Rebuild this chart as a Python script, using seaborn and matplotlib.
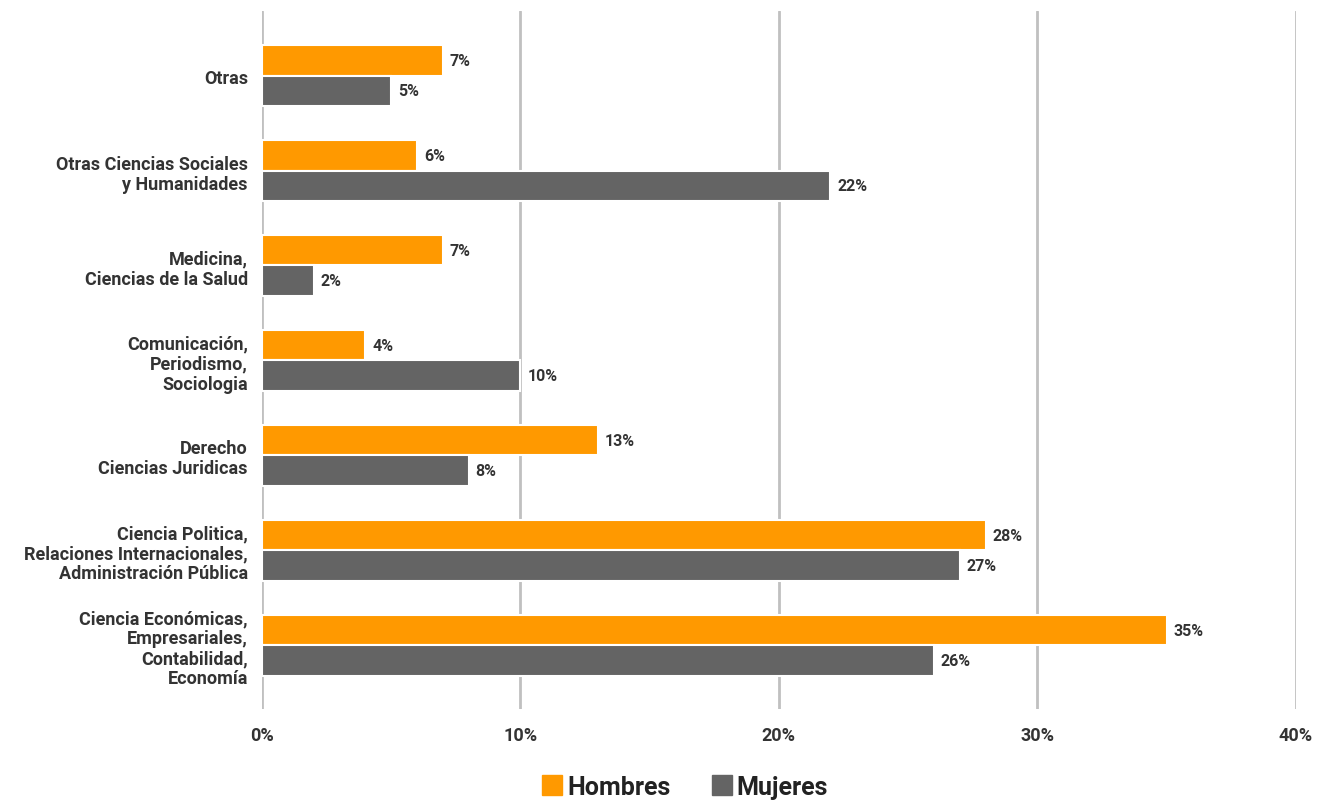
import matplotlib
matplotlib.use("Agg")
import matplotlib.pyplot as plt
from matplotlib.lines import Line2D
import seaborn as sns
import pandas as pd

categories = [
    "Otras",
    "Otras Ciencias Sociales\ny Humanidades",
    "Medicina,\nCiencias de la Salud",
    "Comunicación,\nPeriodismo,\nSociologia",
    "Derecho\nCiencias Juridicas",
    "Ciencia Politica,\nRelaciones Internacionales,\nAdministración Pública",
    "Ciencia Económicas,\nEmpresariales,\nContabilidad,\nEconomía",
]
hombres = [7, 6, 7, 4, 13, 28, 35]
mujeres = [5, 22, 2, 10, 8, 27, 26]
series = ["Hombres", "Mujeres"]
colors = ["#FF9900", "#646464"]
xticks = [0, 10, 20, 30, 40]

df = pd.DataFrame({
    "Área": categories * 2,
    "Sexo": [series[0]] * len(categories) + [series[1]] * len(categories),
    "Valor": hombres + mujeres,
})

sns.set_theme(style="white")
plt.rcParams["font.family"] = ["Roboto", "DejaVu Sans"]

fig = plt.figure(figsize=(13.29, 8.03), dpi=100)
ax = fig.add_axes([0.197, 0.116, 0.778, 0.869])

sns.barplot(data=df, y="Área", x="Valor", hue="Sexo", order=categories,
            hue_order=series, palette=colors, width=0.64, orient="h",
            edgecolor="white", linewidth=1.5, saturation=1, ax=ax, legend=False,
            zorder=3)

for cont in ax.containers:
    ax.bar_label(cont, labels=[f"{v:.0f}%" for v in cont.datavalues],
                 padding=5, fontsize=11.5, fontweight="bold", color="#333333")

ax.set_xlim(0, 40)
ax.set_ylim(6.67, -0.68)
ax.set_xticks(xticks)
ax.set_xticklabels([f"{t}%" for t in xticks], fontsize=13, fontweight="bold",
                   color="#333333")
ax.tick_params(axis="x", length=0, pad=12)
ax.tick_params(axis="y", length=0, pad=10)
for lbl in ax.get_yticklabels():
    lbl.set_fontsize(13)
    lbl.set_fontweight("bold")
    lbl.set_color("#333333")
    lbl.set_linespacing(1.15)
ax.grid(axis="x", color="#c0c0c0", linewidth=2, zorder=0)
ax.set_axisbelow(True)
for s in ax.spines.values():
    s.set_visible(False)
ax.set_xlabel("")
ax.set_ylabel("")

handles = [Line2D([], [], marker="s", linestyle="", markersize=14,
                  markerfacecolor=c, markeredgecolor=c) for c in colors]
fig.legend(handles, series, loc="center", bbox_to_anchor=(0.515, 0.019),
           ncol=2, frameon=False, handletextpad=0.15, handlelength=0.9,
           columnspacing=1.6, prop={"size": 18, "weight": "bold"},
           labelcolor="#222222")

fig.savefig("out.png", dpi=100, facecolor="white")
